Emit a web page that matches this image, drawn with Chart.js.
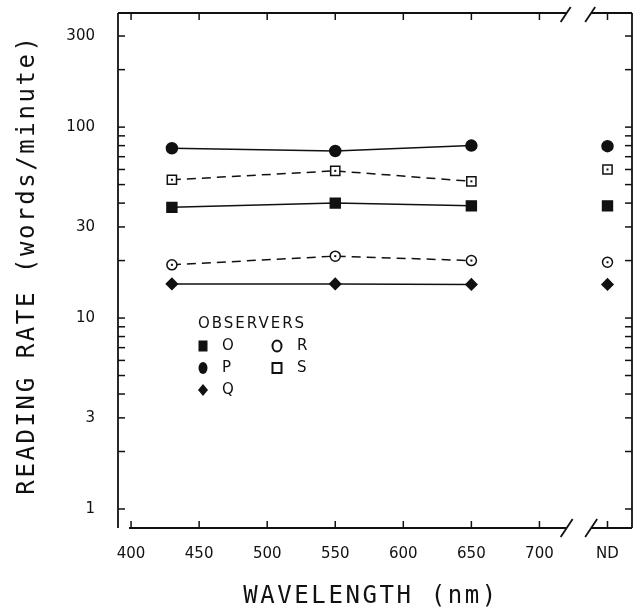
<!DOCTYPE html>
<html>
<head>
<meta charset="utf-8">
<script src="https://cdn.jsdelivr.net/npm/chart.js@4/dist/chart.umd.min.js"></script>
<style>
  html, body { margin: 0; padding: 0; background: #fff; }
</style>
</head>
<body>
<canvas id="chart" width="634" height="610"></canvas>
<script>
// wavelengths (nm) of the three test lights, plus the neutral density (ND) condition
const WAVELENGTHS = [430, 550, 650];
const ND_X = 750;
const X_TICKS = [400, 450, 500, 550, 600, 650, 700, ND_X];
const Y_TICKS = [1, 2, 3, 4, 5, 6, 7, 8, 9, 10, 20, 30, 40, 50, 60, 70, 80, 90, 100, 200, 300];
const Y_LABELS = [1, 3, 10, 30, 100, 300];
const BREAK_AT = [720, 738];

// reading rate (words/minute): 430, 550, 650, ND
const obsO = [38, 40, 38.7, 38.7];
const obsP = [77.5, 75, 80, 79.5];
const obsQ = [15.1, 15.1, 15, 15];
const obsR = [19, 21.1, 20, 19.6];
const obsS = [53, 59, 52, 60];

const INK = '#111';
const X_TITLE = 'WAVELENGTH (nm)';
const Y_TITLE = 'READING RATE (words/minute)';

function series(vals) {
    const pts = WAVELENGTHS.map((w, i) => ({ x: w, y: vals[i] }));
    pts.push({ x: 700, y: null });   // no line into the ND point
    pts.push({ x: ND_X, y: vals[3] });
    return pts;
}

function observer(vals, style, radius, filled, dashed) {
    return {
        data: series(vals),
        borderColor: INK,
        borderWidth: 1.5,
        borderDash: dashed ? [9, 6] : [],
        pointStyle: style,
        pointRadius: radius,
        pointBackgroundColor: filled ? INK : '#fff',
        pointBorderColor: INK,
        pointBorderWidth: 1.5,
        centerDot: !filled,
        spanGaps: false,
    };
}

function line(ctx, x1, y1, x2, y2) {
    ctx.beginPath();
    ctx.moveTo(x1, y1);
    ctx.lineTo(x2, y2);
    ctx.stroke();
}

function noPadding(s) {
    s.paddingTop = 0;
    s.paddingBottom = 0;
    s.paddingLeft = 0;
    s.paddingRight = 0;
}

// frame with axis break, inward ticks, axis titles
const framePlugin = {
    id: 'frame',
    afterDraw(chart) {
        const { ctx, chartArea: { left, right, top, bottom }, scales: { x, y } } = chart;
        const g1 = x.getPixelForValue(BREAK_AT[0]);
        const g2 = x.getPixelForValue(BREAK_AT[1]);
        ctx.save();
        ctx.strokeStyle = INK;
        ctx.lineWidth = 1.8;
        line(ctx, left, top, left, bottom);
        line(ctx, right, top, right, bottom);
        line(ctx, left, top, g1, top);
        line(ctx, g2, top, right, top);
        line(ctx, x.getPixelForValue(398.5), bottom, g1, bottom);
        line(ctx, g2, bottom, right, bottom);
        [g1, g2].forEach(gx => {
            line(ctx, gx - 6, top + 9, gx + 4, top - 6);
            line(ctx, gx - 6, bottom + 9, gx + 6, bottom - 9);
        });

        ctx.lineWidth = 1.5;
        const len = 7;
        X_TICKS.forEach(v => {
            const px = x.getPixelForValue(v);
            line(ctx, px, bottom, px, bottom - len);
            line(ctx, px, top, px, top + len);
        });
        Y_TICKS.forEach(v => {
            const py = y.getPixelForValue(v);
            line(ctx, left, py, left + len, py);
            line(ctx, right, py, right - len, py);
        });

        ctx.fillStyle = INK;
        ctx.font = '24px "DejaVu Sans Mono"';
        ctx.letterSpacing = '2.6px';
        ctx.textAlign = 'center';
        ctx.textBaseline = 'middle';
        ctx.fillText(X_TITLE, (left + right) / 2 - 4, 597);
        ctx.translate(28, (top + bottom) / 2 - 6);
        ctx.rotate(-Math.PI / 2);
        ctx.fillText(Y_TITLE, 0, 0);
        ctx.restore();
    },
};

// small dot in the middle of the open symbols
const dotPlugin = {
    id: 'centerDots',
    afterDatasetsDraw(chart) {
        const ctx = chart.ctx;
        ctx.save();
        ctx.fillStyle = INK;
        chart.data.datasets.forEach((ds, i) => {
            if (!ds.centerDot) return;
            chart.getDatasetMeta(i).data.forEach((pt, j) => {
                if (ds.data[j].y == null) return;
                ctx.fillRect(pt.x - 1, pt.y - 1, 2, 2);
            });
        });
        ctx.restore();
    },
};

// observers key inside the plot
const keyPlugin = {
    id: 'observersKey',
    afterDraw(chart) {
        const { ctx, chartArea: { left, top } } = chart;
        const x0 = left + 80;
        const y0 = top + 311;
        const row = 22;
        ctx.save();
        ctx.fillStyle = INK;
        ctx.strokeStyle = INK;
        ctx.font = '15px "DejaVu Sans"';
        ctx.letterSpacing = '2px';
        ctx.textBaseline = 'middle';
        ctx.fillText('OBSERVERS', x0, y0);

        const c1 = x0 + 5, t1 = x0 + 24, c2 = x0 + 79, t2 = x0 + 99;
        const r1 = y0 + row, r2 = y0 + row * 2, r3 = y0 + row * 3;
        ctx.fillRect(c1 - 4.5, r1 - 5.5, 9, 11);
        ctx.beginPath(); ctx.ellipse(c1, r2, 4.5, 6, 0, 0, Math.PI * 2); ctx.fill();
        ctx.beginPath();
        ctx.moveTo(c1, r3 - 6); ctx.lineTo(c1 + 5, r3); ctx.lineTo(c1, r3 + 6); ctx.lineTo(c1 - 5, r3);
        ctx.closePath(); ctx.fill();
        ctx.lineWidth = 2;
        ctx.beginPath(); ctx.ellipse(c2, r1, 4.5, 5.5, 0, 0, Math.PI * 2); ctx.stroke();
        ctx.strokeRect(c2 - 4.5, r2 - 5, 9, 10);

        ctx.fillText('O', t1, r1);
        ctx.fillText('P', t1, r2);
        ctx.fillText('Q', t1, r3);
        ctx.fillText('R', t2, r1);
        ctx.fillText('S', t2, r2);
        ctx.restore();
    },
};

new Chart(document.getElementById('chart'), {
    type: 'line',
    data: {
        datasets: [
            observer(obsP, 'circle', 5.5, true, false),
            observer(obsS, 'rect', 6.5, false, true),
            observer(obsO, 'rect', 7, true, false),
            observer(obsR, 'circle', 5, false, true),
            observer(obsQ, 'rectRot', 5.5, true, false),
        ],
    },
    options: {
        responsive: false,
        animation: false,
        layout: { autoPadding: false, padding: { top: 13, right: 2, left: 0, bottom: 0 } },
        plugins: {
            legend: { display: false },
            tooltip: { enabled: false },
        },
        scales: {
            x: {
                type: 'linear',
                min: 390.4,
                max: 768,
                grid: { display: false },
                border: { display: false },
                afterBuildTicks: s => { s.ticks = X_TICKS.map(v => ({ value: v })); },
                afterFit: s => { s.height = 82; noPadding(s); },
                ticks: {
                    color: INK,
                    font: { family: 'DejaVu Sans', size: 15 },
                    padding: 9,
                    autoSkip: false,
                    maxRotation: 0,
                    callback: v => (v === ND_X ? 'ND' : String(v)),
                },
            },
            y: {
                type: 'logarithmic',
                min: 0.795,
                max: 396,
                grid: { display: false },
                border: { display: false },
                afterBuildTicks: s => { s.ticks = Y_TICKS.map(v => ({ value: v })); },
                afterFit: s => { s.width = 118; noPadding(s); },
                ticks: {
                    color: INK,
                    font: { family: 'DejaVu Sans', size: 15 },
                    padding: 15,
                    autoSkip: false,
                    callback: v => (Y_LABELS.includes(v) ? String(v) : ''),
                },
            },
        },
    },
    plugins: [framePlugin, dotPlugin, keyPlugin],
});
</script>
</body>
</html>
